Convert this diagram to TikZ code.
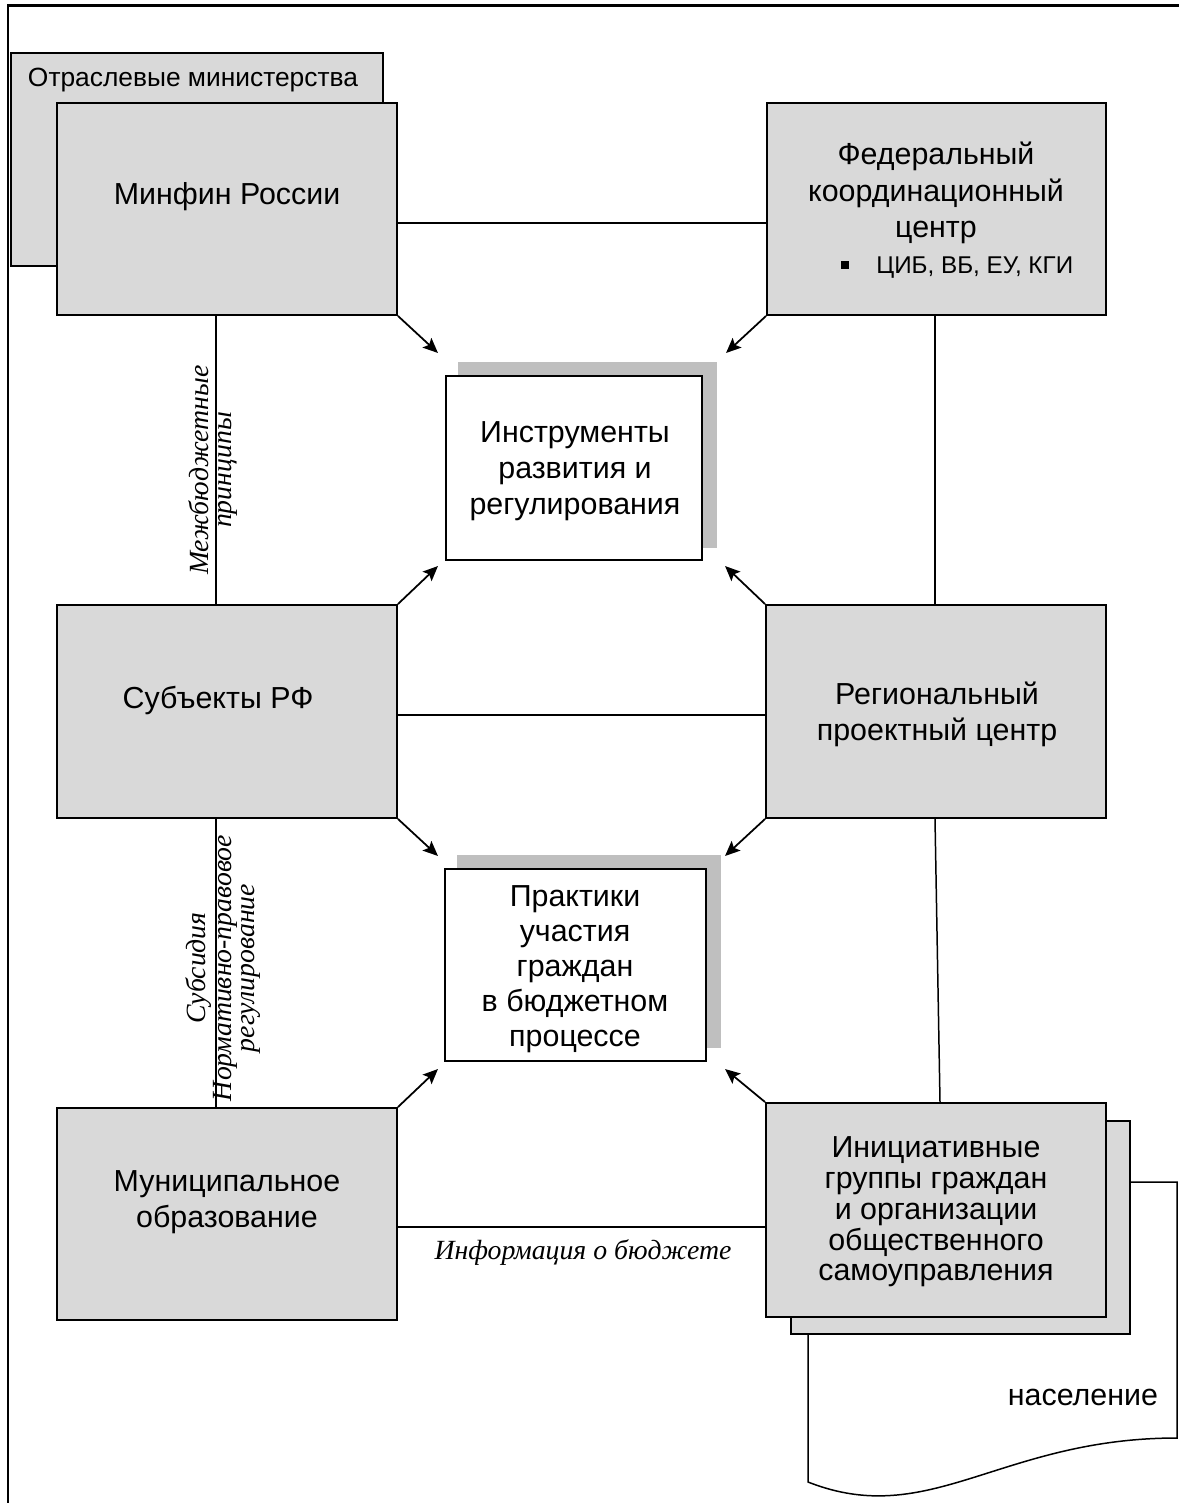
\documentclass[tikz,border=0pt]{standalone}
\usepackage{fontspec}
\setmainfont{Liberation Sans}
\newfontfamily\itserif{Liberation Serif}
\usetikzlibrary{arrows.meta,calc,fit}
\definecolor{boxgray}{HTML}{D9D9D9}
\definecolor{shadegray}{HTML}{BFBFBF}
\tikzset{
  gbox/.style={draw=black, fill=boxgray, line width=1.1pt, inner sep=0pt},
  wbox/.style={draw=black, fill=white, line width=1.1pt, inner sep=0pt},
  shadebox/.style={fill=shadegray, draw=none, inner sep=0pt},
  conn/.style={line width=0.85pt},
  arr/.style={line width=1pt, -{Stealth[length=3mm,width=2.6mm,inset=0.6mm]}},
  txt/.style={font=\fontsize{17.3}{20.6}\selectfont, align=center, inner sep=0pt},
  itlbl/.style={font=\itserif\itshape\fontsize{15.8}{12.8}\selectfont, align=center, inner sep=0pt}
}
\begin{document}
\begin{tikzpicture}[x=0.02cm,y=-0.02cm]
\useasboundingbox (0,0) rectangle (1179,1503);
% frame
\draw[line width=1.7pt] (8,1503) -- (8,6) -- (1179,6);

% population document shape
\draw[conn, fill=white] (808,1182) -- (1177,1182) -- (1177,1438)
  .. controls (1000,1438) and (930,1530) .. (808,1482) -- cycle;

% boxes
\node[gbox, fit={(11,53) (383,266)}] (otr) {};
\node[gbox, fit={(57,103) (397,315)}] (minfin) {};
\node[gbox, fit={(767,103) (1106,315)}] (fed) {};
\node[shadebox, fit={(458,362) (717,548)}] (instrsh) {};
\node[wbox, fit={(446,376) (702,560)}] (instr) {};
\node[gbox, fit={(57,605) (397,818)}] (subj) {};
\node[gbox, fit={(766,605) (1106,818)}] (region) {};
\node[shadebox, fit={(457,855) (721,1048)}] (praktsh) {};
\node[wbox, fit={(445,869) (706,1061)}] (prakt) {};
\node[gbox, fit={(57,1108) (397,1320)}] (munic) {};
\node[gbox, fit={(791,1121) (1130,1334)}] (initback) {};
\node[gbox, fit={(766,1103) (1106,1317)}] (init) {};

% texts
\node[txt, font=\fontsize{15}{18}\selectfont] (otrt) at (193,80) {Отраслевые министерства};
\node[txt] (minfint) at (227,197) {Минфин России};
\node[txt] (fedt) at (936,193) {Федеральный\\координационный\\центр};
\node[fill=black, minimum size=0.17cm, inner sep=0pt] (bul) at (845,265) {};
\node[txt, font=\fontsize{13.8}{16}\selectfont, anchor=west] (fedb) at (876,268) {ЦИБ, ВБ, ЕУ, КГИ};
\node[txt] (instrt) at (575,471) {Инструменты\\развития и\\регулирования};
\node[txt] (subjt) at (218,701) {Субъекты РФ};
\node[txt] (regiont) at (937,714) {Региональный\\проектный центр};
\node[txt, font=\fontsize{17.3}{20}\selectfont] (praktt) at (575,969) {Практики\\участия\\граждан\\в бюджетном\\процессе};
\node[txt] (munict) at (227,1202) {Муниципальное\\образование};
\node[txt, font=\fontsize{17.3}{17.5}\selectfont] (initt) at (936,1212) {Инициативные\\группы граждан\\и организации\\общественного\\самоуправления};
\node[txt] (popt) at (1083,1397) {население};

% connectors
\draw[conn] ($(minfin.east)+(0,14)$) -- ($(fed.west)+(0,14)$);
\draw[conn] ($(subj.east)+(0,3.5)$) -- ($(region.west)+(0,3.5)$);
\draw[conn] ($(munic.east)+(0,13)$) -- ($(init.west)+(0,17)$);
\draw[conn] ($(minfin.south)+(-11,0)$) -- ($(subj.north)+(-11,0)$);
\draw[conn] ($(subj.south)+(-11,0)$) -- ($(munic.north)+(-11,0)$);
\draw[conn] ($(fed.south)+(-1.5,0)$) -- ($(region.north)+(-1,0)$);
\draw[conn] ($(region.south)+(-1,0)$) -- ($(init.north)+(4,0)$);

% arrows
\draw[arr] (minfin.south east) -- ($(minfin.south east)+(40,37)$);
\draw[arr] (fed.south west) -- ($(fed.south west)+(-40,37)$);
\draw[arr] (subj.north east) -- ($(subj.north east)+(40,-38)$);
\draw[arr] (region.north west) -- ($(region.north west)+(-40,-38)$);
\draw[arr] (subj.south east) -- ($(subj.south east)+(40,37)$);
\draw[arr] (region.south west) -- ($(region.south west)+(-40,37)$);
\draw[arr] (munic.north east) -- ($(munic.north east)+(40,-38)$);
\draw[arr] (init.north west) -- ($(init.north west)+(-40,-33)$);

% italic labels
\node[itlbl, rotate=90] (lbl1) at (213,470) {Межбюджетные\\принципы};
\node[itlbl, rotate=90] (lbl2) at (223,968) {Субсидия\\Нормативно-правовое\\регулирование};
\node[itlbl] (lbl3) at (583,1253) {Информация о бюджете};
\end{tikzpicture}
\end{document}
